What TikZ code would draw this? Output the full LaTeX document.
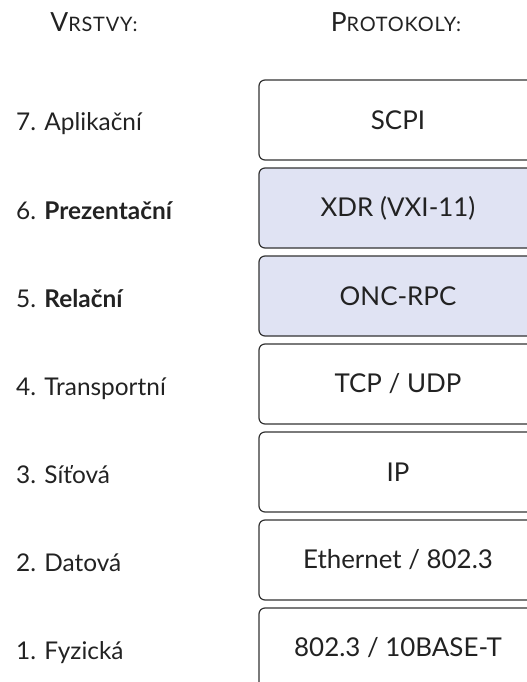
\documentclass[tikz,border=0pt]{standalone}
\usepackage{fontspec}
\setmainfont{Lato}
\definecolor{ink}{HTML}{222222}
\definecolor{edge}{HTML}{333333}
\definecolor{hilite}{HTML}{E0E3F3}
\newcommand{\bigS}{\fontsize{26.5}{26.5}\selectfont}
\newcommand{\smallS}{\addfontfeature{LetterSpace=4}\fontsize{20}{20}\selectfont}
\begin{document}
\begin{tikzpicture}[x=1bp,y=-1bp,
  proto/.style={draw=edge, line width=1.2bp, rounded corners=6bp, fill=white,
    minimum width=278bp, minimum height=80bp, inner sep=0pt,
    font=\fontsize{26}{26}\selectfont, text=ink},
  hl/.style={fill=hilite},
  layer/.style={anchor=base west, inner sep=0pt, font=\fontsize{24.5}{24.5}\selectfont, text=ink},
  head/.style={anchor=base, inner sep=0pt, text=ink}]
\useasboundingbox (0,0) rectangle (527,682);
\clip (0,0) rectangle (527,682);
\node[head] (h1) at (94,32) {\bigS V\smallS RSTVY:};
\node[head] (h2) at (396,32) {\bigS P\smallS ROTOKOLY:};
\node[proto] (p7) at (398,120) {SCPI};
\node[proto,hl] (p6) at (398,208) {XDR (VXI-11)};
\node[proto,hl] (p5) at (398,296) {ONC-RPC};
\node[proto] (p4) at (398,384) {TCP / UDP};
\node[proto] (p3) at (398,472) {IP};
\node[proto] (p2) at (398,560) {Ethernet / 802.3};
\node[proto] (p1) at (398,648) {802.3 / 10BASE-T};
\node[layer] (l7) at (16,131) {7. Aplikační};
\node[layer] (l6) at (16,219) {6. \textbf{Prezentační}};
\node[layer] (l5) at (16,307) {5. \textbf{Relační}};
\node[layer] (l4) at (16,395) {4. Transportní};
\node[layer] (l3) at (16,483) {3. Síťová};
\node[layer] (l2) at (16,571) {2. Datová};
\node[layer] (l1) at (16,659) {1. Fyzická};
\end{tikzpicture}
\end{document}
